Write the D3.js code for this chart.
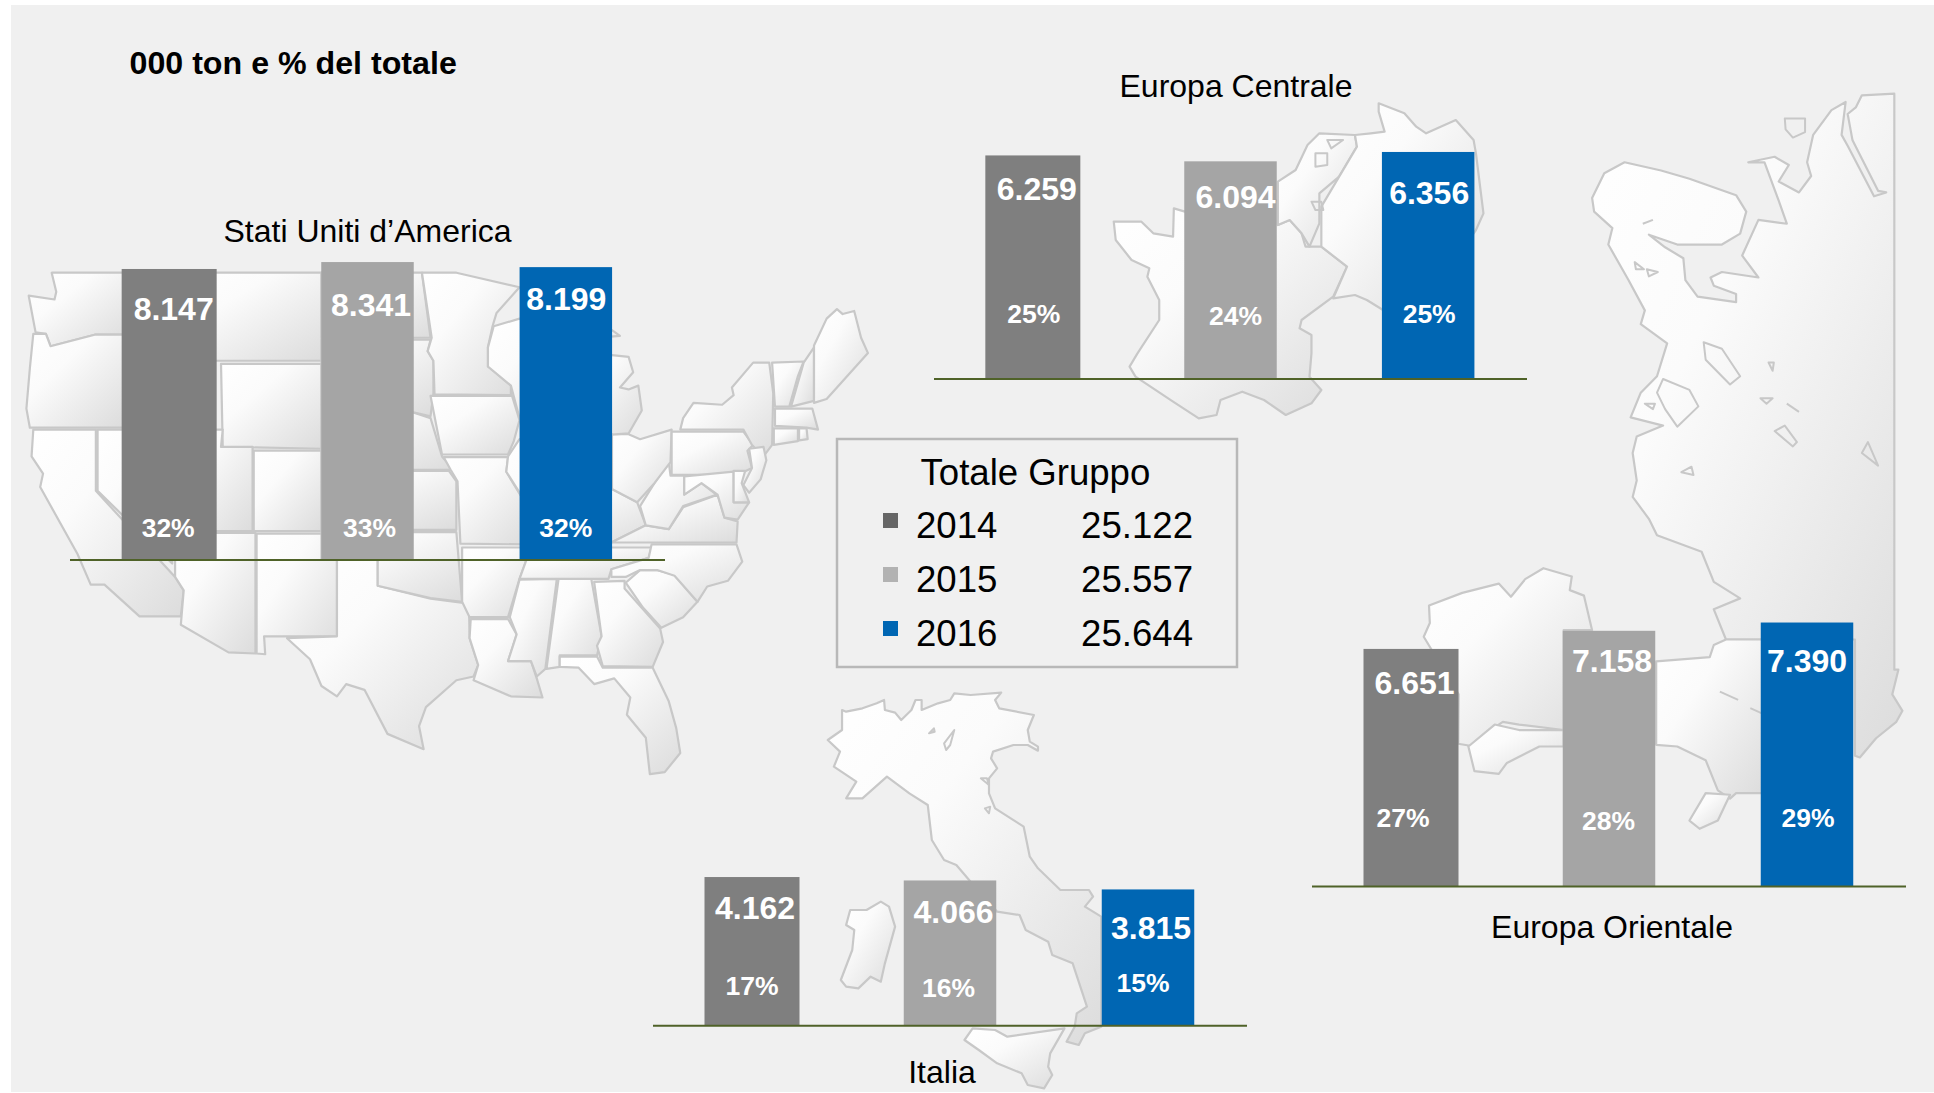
<!DOCTYPE html>
<html><head><meta charset="utf-8">
<script src="https://cdn.jsdelivr.net/npm/d3@7"></script>
<style>html,body{margin:0;padding:0;background:#fff;overflow:hidden}svg{display:block}text{font-family:"Liberation Sans",Arial,sans-serif}</style>
</head><body><svg id="c" width="1934" height="1093"></svg>
<script>
// ---------- data ----------
const years = ["2014","2015","2016"];
const totals = ["25.122","25.557","25.644"];
const usaValues = [8147,8341,8199];
const usaShares = [32,33,32];
const centralValues = [6259,6094,6356];
const centralShares = [25,24,25];
const italyValues = [4162,4066,3815];
const italyShares = [17,16,15];
const eastValues = [6651,7158,7390];
const eastShares = [27,28,29];
const fmt = d3.format(".3f");
const label = v => fmt(v/1000);

// ---------- layout ----------
const colors = d3.scaleOrdinal(years,["#7f7f7f","#a5a5a5","#0066b3"]);
const legendColors = d3.scaleOrdinal(years,["#666666","#b2b2b2","#0066b3"]);
const h = d3.scaleLinear().domain([0,1000]).range([0,35.72]);
const barWidths = [95,92.5,92.5];
const panels = [
 {name:"Stati Uniti d\u2019America",values:usaValues,shares:usaShares,x0:70,x1:665,base:560,titleX:367.5,titleY:242,
  vdx:[4.5,3.5,.5],vdy:[39.6,43,31.7],pdx:[-1,2,0],pup:[32,32,32]},
 {name:"Europa Centrale",values:centralValues,shares:centralShares,x0:934,x1:1527,base:379,titleX:1236,titleY:97,
  vdx:[4,5,1],vdy:[33,35.5,40.4],pdx:[1,5,1],pup:[65.3,62.8,65.3]},
 {name:"Italia",values:italyValues,shares:italyShares,x0:653,x1:1247,base:1025.7,titleX:942,titleY:1083,
  vdx:[3,3.5,3],vdy:[31,31,38.5],pdx:[0,-1.5,-5],pup:[40,37.5,42.5]},
 {name:"Europa Orientale",values:eastValues,shares:eastShares,x0:1312,x1:1906,base:886.5,titleX:1612,titleY:938,
  vdx:[3.5,3,0],vdy:[34,29.5,38],pdx:[-8,-.5,1],pup:[68.5,66,68.5]}
];

const svg = d3.select("#c");
const defs = svg.append("defs");
const grad = defs.append("linearGradient").attr("id","mapfill").attr("x1",0).attr("y1",0).attr("x2",1).attr("y2",1);
grad.append("stop").attr("offset","0%").attr("stop-color","#ffffff");
grad.append("stop").attr("offset","35%").attr("stop-color","#fbfbfb");
grad.append("stop").attr("offset","100%").attr("stop-color","#dcdcdc");

svg.append("rect").attr("x",11).attr("y",5).attr("width",1923).attr("height",1087).attr("fill","#f0f0f0");

// ---------- background map outlines (decorative, traced shapes) ----------
const usaMap = [
[[90,190],[215,190],[215,352],[165,352],[88,382],[80,350],[62,346],[50,250],[95,260],[98,240]],
[[58,350],[80,350],[88,382],[165,352],[215,352],[215,595],[52,595],[46,545],[52,440]],
[[58,600],[167,600],[167,760],[305,985],[320,1020],[315,1088],[243,1088],[182,1005],[158,1005],[135,925],[70,750],[75,715],[55,670]],
[[170,600],[300,600],[300,950],[170,760]],
[[215,190],[300,190],[300,595],[215,595]],
[[300,190],[560,190],[560,420],[300,420]],
[[385,428],[560,428],[560,650],[388,645]],
[[300,600],[388,600],[385,645],[440,645],[440,865],[300,865]],
[[442,655],[560,655],[560,865],[442,865]],
[[305,870],[445,870],[445,1185],[398,1182],[315,1110],[320,1020],[305,985]],
[[447,872],[587,872],[587,1140],[460,1140],[462,1187],[447,1185]],
[[587,940],[587,1140],[500,1145],[540,1200],[560,1270],[587,1297],[603,1265],[635,1280],[675,1395],[738,1435],[730,1375],[742,1325],[795,1255],[825,1245],[833,1215],[818,1145],[817,1055],[750,1042],[658,1008],[658,940]],
[[560,868],[795,868],[805,1050],[750,1040],[658,1008],[658,940],[560,940]],
[[560,708],[782,708],[795,735],[795,862],[560,862]],
[[560,535],[720,555],[750,570],[770,670],[790,705],[560,705]],
[[560,365],[750,365],[745,395],[755,420],[755,505],[750,565],[720,555],[560,535]],
[[560,190],[735,190],[750,360],[560,360]],
[[735,190],[795,190],[905,228],[865,295],[858,330],[850,385],[850,435],[890,485],[890,510],[757,508],[755,420],[745,395],[752,360]],
[[860,330],[905,310],[1000,400],[1000,600],[905,570],[890,485],[850,435],[850,385]],
[[750,512],[892,512],[905,575],[895,630],[885,665],[770,665]],
[[773,672],[885,672],[882,710],[910,780],[920,900],[802,898],[797,735],[785,705]],
[[885,670],[905,625],[1000,625],[1000,850],[920,800],[882,710]],
[[805,908],[925,908],[905,990],[885,1090],[818,1090],[805,1050]],
[[820,1095],[885,1095],[900,1135],[885,1205],[925,1205],[935,1250],[945,1300],[890,1297],[825,1255],[833,1215],[818,1145]],
[[905,992],[970,990],[950,1225],[935,1245],[925,1205],[885,1205],[900,1135],[888,1090]],
[[973,990],[1030,990],[1048,1140],[1040,1190],[975,1190],[975,1220],[952,1225]],
[[925,908],[1135,908],[1130,935],[1065,965],[1060,990],[905,990]],
[[1066,755],[1110,790],[1125,850],[1065,895],[925,900],[1000,830]],
[[1035,998],[1088,995],[1088,1015],[1150,1120],[1155,1155],[1137,1220],[1050,1218],[1040,1165],[1048,1140]],
[[975,1193],[1040,1193],[1050,1222],[1137,1222],[1165,1310],[1178,1380],[1185,1445],[1158,1495],[1132,1500],[1125,1405],[1092,1345],[1098,1300],[1070,1250],[1035,1265],[1008,1222],[975,1220]],
[[1090,1000],[1115,967],[1145,967],[1175,980],[1215,1050],[1190,1090],[1152,1118],[1120,1065]],
[[1135,900],[1283,900],[1293,945],[1268,995],[1232,1010],[1215,1050],[1175,982],[1145,967],[1115,967],[1090,985],[1065,985],[1065,965],[1130,935]],
[[1065,895],[1125,850],[1165,860],[1190,803],[1250,770],[1262,830],[1285,840],[1283,895]],
[[1115,800],[1140,740],[1165,685],[1168,720],[1192,720],[1192,770],[1222,740],[1248,770],[1190,800],[1165,860],[1125,850]],
[[1066,612],[1095,612],[1115,625],[1170,600],[1168,685],[1140,740],[1110,790],[1066,755]],
[[1000,395],[1095,410],[1103,450],[1080,490],[1095,495],[1112,485],[1118,550],[1095,610],[1000,620]],
[[1000,340],[1066,340],[1080,355],[1000,365]],
[[1170,605],[1295,605],[1312,640],[1302,655],[1310,700],[1285,718],[1170,718]],
[[1185,600],[1190,570],[1208,530],[1258,535],[1278,510],[1275,490],[1312,425],[1340,425],[1347,505],[1345,640],[1330,670],[1310,640],[1295,600]],
[[1345,425],[1400,422],[1390,460],[1375,540],[1350,540]],
[[1400,425],[1418,385],[1418,525],[1378,540]],
[[1418,380],[1440,310],[1458,285],[1468,298],[1488,290],[1500,360],[1512,400],[1440,520],[1418,530]],
[[1350,545],[1415,545],[1425,600],[1405,595],[1350,590]],
[[1348,597],[1390,597],[1390,630],[1348,640]],
[[1392,597],[1405,597],[1407,625],[1392,628]],
[[1305,650],[1330,645],[1335,680],[1325,730],[1305,765],[1295,745],[1310,700]],
[[1192,722],[1278,710],[1278,790],[1305,790],[1285,835],[1262,830],[1250,770],[1222,740],[1192,770]],
[[1278,708],[1298,708],[1292,740],[1305,790],[1278,790]],
[[1000,625],[1066,612],[1066,755],[1000,830]]
];
const italyMap = [
[[495,90],[505,95],[545,85],[580,70],[598,60],[600,90],[625,98],[640,120],[665,90],[675,60],[690,60],[690,90],[730,70],[760,60],[770,40],[810,45],[885,38],[870,60],[880,85],[965,105],[950,150],[955,185],[975,200],[975,212],[950,195],[915,195],[865,215],[860,235],[875,265],[855,295],[855,340],[870,385],[940,440],[955,530],[975,565],[1030,630],[1100,630],[1110,650],[1090,680],[1130,710],[1130,1040],[1090,1060],[1075,1095],[1045,1085],[1065,1040],[1070,1000],[1095,980],[1060,850],[1010,825],[1000,785],[945,750],[930,705],[875,695],[810,605],[775,555],[745,540],[715,480],[705,375],[660,340],[605,290],[545,355],[505,355],[530,305],[475,260],[490,215],[460,180],[495,150]],
[[515,690],[555,690],[590,665],[610,680],[625,740],[600,850],[590,905],[565,890],[535,925],[505,920],[492,900],[520,810],[525,750],[505,735]],
[[815,1045],[870,1050],[900,1070],[1040,1045],[1005,1120],[1000,1160],[1010,1185],[990,1225],[950,1215],[935,1180],[875,1150],[830,1110],[795,1080]]
];
const italyLakes = [
[[708,160],[720,145],[722,155]],
[[770,150],[745,190],[750,210],[760,195]],
[[835,295],[850,295],[855,315]],
[[845,385],[858,380],[855,400]]
];
const centralMap = [
[[490,395],[560,395],[590,430],[640,440],[642,355],[670,365],[905,330],[905,405],[935,390],[965,430],[975,470],[1015,470],[1080,530],[1045,620],[965,690],[960,715],[990,735],[990,790],[985,860],[1015,900],[990,940],[925,975],[870,930],[815,905],[760,930],[750,975],[705,985],[640,935],[545,860],[530,830],[550,790],[605,690],[605,630],[575,560],[580,535],[535,510],[495,450]],
[[905,275],[950,240],[980,165],[1010,130],[1100,135],[1105,170],[1070,240],[1060,260],[1010,310],[1010,400],[985,470],[965,430],[935,390],[905,405]],
[[1100,135],[1140,130],[1175,125],[1160,65],[1160,40],[1225,70],[1255,110],[1280,130],[1355,90],[1400,150],[1406,190],[1425,370],[1406,420],[1300,600],[1171,660],[1130,630],[1100,615],[1045,625],[1080,530],[1015,470],[1015,350],[1060,260],[1105,170]]
];
const centralLakes = [
[[990,335],[1015,335],[1020,360],[1000,360]],
[[1000,190],[1030,190],[1030,225],[1000,230]],
[[1030,150],[1070,150],[1040,175]]
];
const eastMap = [
[[720,215],[750,170],[800,150],[890,165],[960,180],[1075,210],[1100,240],[1085,280],[1040,300],[930,300],[860,282],[900,305],[945,325],[950,365],[980,395],[1075,405],[1075,390],[1020,375],[1012,360],[1040,350],[1130,360],[1090,320],[1130,255],[1200,262],[1180,220],[1145,150],[1105,150],[1170,140],[1205,155],[1180,185],[1230,205],[1260,175],[1250,150],[1265,100],[1310,55],[1345,40],[1335,100],[1350,120],[1415,212],[1445,205],[1425,202],[1362,110],[1350,62],[1370,50],[1385,28],[1465,25],[1465,1075],[1475,1075],[1460,1120],[1485,1150],[1470,1170],[1420,1200],[1380,1235],[1368,1232],[1368,1020],[1050,1020],[1020,965],[1085,945],[1020,915],[990,860],[880,830],[860,800],[820,760],[830,730],[820,680],[830,650],[895,630],[815,615],[840,570],[880,540],[905,480],[840,445],[850,420],[810,365],[760,300],[770,270],[725,240]],
[[318,958],[400,935],[490,918],[520,942],[555,910],[600,890],[670,905],[665,930],[700,940],[720,1003],[650,1003],[650,1185],[540,1175],[500,1170],[460,1190],[430,1215],[390,1210],[391,1120],[305,1015],[320,990]],
[[415,1215],[480,1175],[540,1185],[650,1185],[650,1215],[590,1215],[510,1245],[490,1265],[430,1260]],
[[878,1060],[1010,1052],[1020,1030],[1050,1020],[1140,1020],[1140,1300],[1075,1300],[1060,1310],[1030,1295],[1000,1240],[930,1215],[878,1212]],
[[960,1350],[1000,1300],[1060,1303],[1030,1350],[985,1365]]
];
const eastLakes = [
[[1195,70],[1245,70],[1245,95],[1215,105],[1197,90]],
[[880,570],[895,545],[960,565],[982,595],[930,632],[900,600]],
[[825,332],[848,345],[828,345]],[[855,345],[882,350],[860,358]],[[940,715],[965,705],[970,720]],
[[995,478],[1040,490],[1085,540],[1060,555],[1000,510]],[[850,590],[875,590],[870,600]],
[[1135,580],[1165,580],[1150,590]],[[1170,640],[1195,630],[1225,660],[1215,668]],[[1385,680],[1400,660],[1425,703]],
[[1155,515],[1168,515],[1165,530]],[[1200,590],[1230,605]],[[845,262],[870,255]],[[1035,1115],[1080,1130]],[[1110,1145],[1140,1155]]
];

function drawMap(shapes, lakes, ox, oy, sx, sy){
  const line = d3.line().x(p=>ox+p[0]/sx).y(p=>oy+p[1]/sy);
  const g = svg.append("g");
  g.selectAll("path.land").data(shapes).join("path").attr("class","land")
    .attr("d",d=>line(d)+"Z").attr("fill","url(#mapfill)").attr("stroke","#c8c8c8")
    .attr("stroke-width",2.2).attr("stroke-linejoin","round");
  g.selectAll("path.lake").data(lakes).join("path").attr("class","lake")
    .attr("d",d=>line(d)+(d.length>2?"Z":"")).attr("fill","none").attr("stroke","#c8c8c8")
    .attr("stroke-width",2).attr("stroke-linejoin","round");
}
drawMap(usaMap,[],0,200,1.742,2.613);
drawMap(italyMap,italyLakes,640,680,2.45,3);
drawMap(centralMap,centralLakes,920,90,2.529,3);
drawMap(eastMap,eastLakes,1300,80,2.465,1.823);

// ---------- bars ----------
panels.forEach(p=>{
  const x = d3.scaleBand().domain(years).range([p.x0,p.x1]);
  const cx = y => x(y)+x.bandwidth()/2;
  const rows = years.map((y,i)=>({y,i,v:p.values[i],s:p.shares[i]}));
  const g = svg.append("g");
  g.selectAll("rect").data(rows).join("rect")
    .attr("x",d=>cx(d.y)-barWidths[d.i]/2).attr("width",d=>barWidths[d.i])
    .attr("y",d=>p.base-h(d.v)).attr("height",d=>h(d.v)).attr("fill",d=>colors(d.y));
  g.append("line").attr("x1",p.x0).attr("x2",p.x1).attr("y1",p.base).attr("y2",p.base)
    .attr("stroke","#4f6228").attr("stroke-width",2);
  g.selectAll("text.v").data(rows).join("text").attr("class","v")
    .attr("x",d=>cx(d.y)+p.vdx[d.i]).attr("y",d=>p.base-h(d.v)+p.vdy[d.i])
    .attr("dy","0.35em").attr("text-anchor","middle").attr("fill","#fff")
    .attr("font-weight","bold").attr("font-size",32).text(d=>label(d.v));
  g.selectAll("text.s").data(rows).join("text").attr("class","s")
    .attr("x",d=>cx(d.y)+p.pdx[d.i]).attr("y",d=>p.base-p.pup[d.i])
    .attr("dy","0.35em").attr("text-anchor","middle").attr("fill","#fff")
    .attr("font-weight","bold").attr("font-size",26.5).text(d=>d.s+"%");
  svg.append("text").attr("x",p.titleX).attr("y",p.titleY).attr("text-anchor","middle")
    .attr("font-size",32).attr("fill","#000").text(p.name);
});

// ---------- heading ----------
svg.append("text").attr("x",129.5).attr("y",74).attr("font-size",32.2).attr("font-weight","bold").attr("fill","#000").text("000 ton e % del totale");

// ---------- legend ----------
const legend = svg.append("g");
legend.append("rect").attr("x",837).attr("y",439).attr("width",400).attr("height",228).attr("fill","none").attr("stroke","#b8b8b8").attr("stroke-width",2.5);
legend.append("text").attr("x",920.5).attr("y",485).attr("font-size",36.6).attr("fill","#000").text("Totale Gruppo");
const ly = d3.scalePoint().domain(years).range([538,646]);
legend.selectAll("rect.k").data(years).join("rect").attr("class","k")
  .attr("x",883).attr("y",d=>ly(d)-25).attr("width",15).attr("height",15).attr("fill",d=>legendColors(d));
legend.selectAll("text.y").data(years).join("text").attr("class","y")
  .attr("x",916).attr("y",d=>ly(d)).attr("font-size",36.6).attr("fill","#000").text(d=>d);
legend.selectAll("text.t").data(totals).join("text").attr("class","t")
  .attr("x",1193).attr("y",(d,i)=>ly(years[i])).attr("text-anchor","end").attr("font-size",36.6).attr("fill","#000").text(d=>d);
</script></body></html>
